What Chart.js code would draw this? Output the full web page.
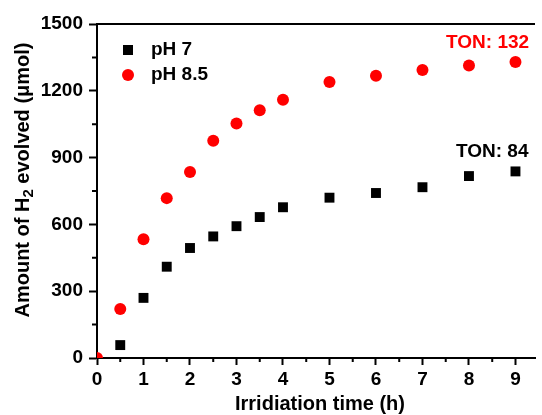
<!DOCTYPE html>
<html lang="en">
<head>
<meta charset="UTF-8">
<title>H2 evolution</title>
<script src="https://cdn.jsdelivr.net/npm/chart.js"></script>
<style>
    html, body { margin: 0; padding: 0; background: #fff; }
    #chart { display: block; }
</style>
</head>
<body>
<canvas id="chart" width="542" height="415"></canvas>
<script>
// data
var times = [0, 0.5, 1, 1.5, 2, 2.5, 3, 3.5, 4, 5, 6, 7, 8, 9];
var ph7 = [null, 58, 270, 410, 494, 546, 592, 633, 677, 720, 741, 767, 817, 838];
var ph85 = [0, 220, 533, 718, 835, 976, 1053, 1113, 1160, 1240, 1268, 1293, 1314, 1329];
var seriesNames = ['pH 7', 'pH 8.5'];
var seriesColors = ['#000000', '#ff0000'];
var tonTexts = ['TON: 84', 'TON: 132'];
var tonX = [8.5, 8.4];
var tonY = [925, 1416];

var FONT = '"Liberation Sans", Arial, sans-serif';

function toPoints(vals) {
    var pts = [];
    for (var i = 0; i < times.length; i++) {
        if (vals[i] !== null) pts.push({ x: times[i], y: vals[i] });
    }
    return pts;
}

// extra drawing: frame top line, minor ticks, titles, legend, TON labels
var extras = {
    id: 'extras',
    afterDraw: function(chart) {
        var ctx = chart.ctx;
        var a = chart.chartArea;
        var xs = chart.scales.x, ys = chart.scales.y;
        ctx.save();
        ctx.strokeStyle = '#000';
        ctx.lineWidth = 2;
        // top line
        ctx.beginPath();
        ctx.moveTo(a.left - 1, a.top);
        ctx.lineTo(a.right, a.top);
        ctx.stroke();
        // minor ticks
        ctx.beginPath();
        for (var v = 0.5; v < 9.4; v += 1) {
            var px = xs.getPixelForValue(v);
            ctx.moveTo(px, a.bottom);
            ctx.lineTo(px, a.bottom + 4);
        }
        for (var w = 150; w < 1500; w += 300) {
            var py = ys.getPixelForValue(w);
            ctx.moveTo(a.left, py);
            ctx.lineTo(a.left - 5, py);
        }
        ctx.stroke();

        // x title
        ctx.fillStyle = '#000';
        ctx.font = 'bold 20px ' + FONT;
        ctx.textAlign = 'center';
        ctx.textBaseline = 'middle';
        ctx.fillText('Irridiation time (h)', 320, 404);

        // y title with subscript
        ctx.save();
        ctx.translate(22, 180);
        ctx.rotate(-Math.PI / 2);
        var p1 = 'Amount of H', p2 = '2', p3 = ' evolved (\u03bcmol)';
        ctx.font = 'bold 20px ' + FONT;
        var w1 = ctx.measureText(p1).width, w3 = ctx.measureText(p3).width;
        ctx.font = 'bold 15px ' + FONT;
        var w2 = ctx.measureText(p2).width;
        var x0 = -(w1 + w2 + w3) / 2;
        ctx.textAlign = 'left';
        ctx.textBaseline = 'alphabetic';
        ctx.font = 'bold 20px ' + FONT;
        ctx.fillText(p1, x0, 7);
        ctx.font = 'bold 15px ' + FONT;
        ctx.fillText(p2, x0 + w1, 11);
        ctx.font = 'bold 20px ' + FONT;
        ctx.fillText(p3, x0 + w1 + w2, 7);
        ctx.restore();

        // legend
        ctx.font = 'bold 19px ' + FONT;
        ctx.textAlign = 'left';
        ctx.textBaseline = 'middle';
        ctx.fillStyle = seriesColors[0];
        ctx.fillRect(123, 45, 10, 10);
        ctx.fillStyle = '#000';
        ctx.fillText(seriesNames[0], 151, 50);
        ctx.fillStyle = seriesColors[1];
        ctx.beginPath();
        ctx.arc(128, 75, 6, 0, Math.PI * 2);
        ctx.fill();
        ctx.fillStyle = '#000';
        ctx.fillText(seriesNames[1], 151, 75);

        // TON labels
        ctx.textAlign = 'center';
        for (var i = 0; i < tonTexts.length; i++) {
            ctx.fillStyle = seriesColors[i];
            ctx.fillText(tonTexts[i], xs.getPixelForValue(tonX[i]), ys.getPixelForValue(tonY[i]));
        }
        ctx.restore();
    }
};

var tickFont = { family: FONT, size: 19, weight: 'bold' };

new Chart(document.getElementById('chart'), {
    type: 'scatter',
    data: {
        datasets: [
            {
                label: seriesNames[0],
                data: toPoints(ph7),
                pointStyle: 'rect',
                pointRadius: 7,
                pointHoverRadius: 7,
                backgroundColor: seriesColors[0],
                borderColor: seriesColors[0],
                borderWidth: 0,
                clip: 0
            },
            {
                label: seriesNames[1],
                data: toPoints(ph85),
                pointStyle: 'circle',
                pointRadius: 6,
                pointHoverRadius: 6,
                backgroundColor: seriesColors[1],
                borderColor: seriesColors[1],
                borderWidth: 0,
                clip: 0
            }
        ]
    },
    options: {
        responsive: false,
        animation: false,
        layout: { padding: { left: 0, right: 0, top: 24, bottom: 0 } },
        plugins: {
            legend: { display: false },
            tooltip: { enabled: false }
        },
        scales: {
            x: {
                type: 'linear',
                min: 0,
                max: 9.42,
                afterFit: function(s) { s.height = 57; },
                ticks: {
                    stepSize: 1,
                    includeBounds: false,
                    color: '#000',
                    font: tickFont,
                    padding: 3,
                    maxRotation: 0
                },
                grid: {
                    drawOnChartArea: false,
                    tickLength: 7,
                    tickWidth: 2,
                    tickColor: '#000'
                },
                border: { color: '#000', width: 2 }
            },
            y: {
                min: 0,
                max: 1500,
                afterFit: function(s) { s.width = 97; },
                ticks: {
                    stepSize: 300,
                    color: '#000',
                    font: tickFont,
                    padding: 6,
                    callback: function(v) { return String(v); }
                },
                grid: {
                    drawOnChartArea: false,
                    tickLength: 8,
                    tickWidth: 2,
                    tickColor: '#000'
                },
                border: { color: '#000', width: 2 }
            }
        }
    },
    plugins: [extras]
});
</script>
</body>
</html>
